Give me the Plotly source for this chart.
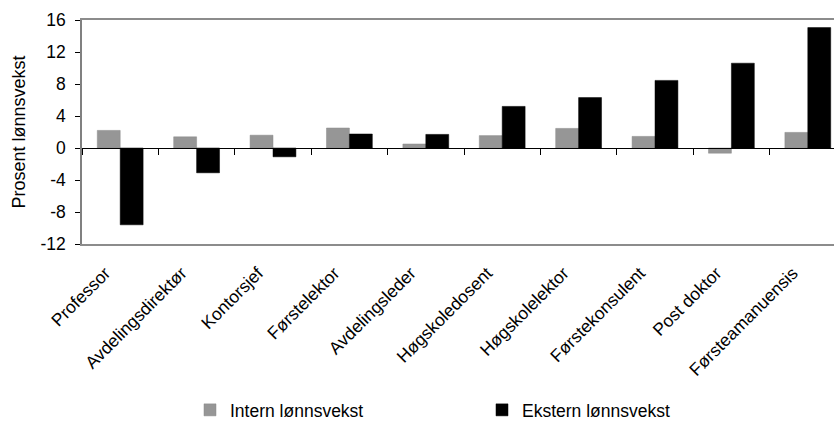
import plotly.graph_objects as go

# Stillingskategorier og lønnsvekst (prosent)
categories = ["Professor", "Avdelingsdirektør", "Kontorsjef", "Førstelektor",
              "Avdelingsleder", "Høgskoledosent", "Høgskolelektor",
              "Førstekonsulent", "Post doktor", "Førsteamanuensis"]
intern = [2.2, 1.4, 1.6, 2.5, 0.5, 1.55, 2.45, 1.45, -0.65, 1.95]
ekstern = [-9.6, -3.1, -1.1, 1.75, 1.7, 5.2, 6.3, 8.45, 10.6, 15.05]
y_ticks = [-12, -8, -4, 0, 4, 8, 12, 16]
y_ticktext = [str(v) for v in y_ticks]

font = "Liberation Sans, Arial, sans-serif"
fs = 17.5

fig = go.Figure()
fig.add_trace(go.Bar(x=categories, y=intern, name="Intern lønnsvekst",
                     marker=dict(color="#969696", line=dict(color="#8a8a8a", width=0.5))))
fig.add_trace(go.Bar(x=categories, y=ekstern, name="Ekstern lønnsvekst",
                     marker=dict(color="#000000", line=dict(color="#000000", width=0.5))))
# invisible trace so the zero-line axis carries the same categories
fig.add_trace(go.Scatter(x=categories, y=[None] * len(categories), xaxis="x2",
                         showlegend=False, hoverinfo="skip"))

ymin, ymax = y_ticks[0], y_ticks[-1]
xrange = [-0.5, len(categories) - 0.5 - 0.157]

fig.update_layout(
    width=834, height=423,
    margin=dict(l=82, r=0, t=20, b=179, autoexpand=False),
    plot_bgcolor="white", paper_bgcolor="white",
    barmode="group", bargap=0.4, bargroupgap=0,
    font=dict(family=font, size=fs, color="black"),
    showlegend=True,
    legend=dict(orientation="h", x=0.1436, xanchor="left", y=-0.741, yanchor="middle",
                entrywidth=247, entrywidthmode="pixels",
                font=dict(size=fs), itemwidth=30, tracegroupgap=0),
    xaxis=dict(type="category", range=xrange, showline=True, linecolor="#8c8c8c",
               linewidth=2, mirror=True, ticks="", tickangle=-45,
               ticklabelshift=-15, ticklabelstandoff=10, automargin=False,
               tickfont=dict(size=fs), showgrid=False),
    xaxis2=dict(type="category", overlaying="x", matches="x", anchor="free",
                position=(0 - ymin) / (ymax - ymin), showline=True, linecolor="black",
                linewidth=1, ticks="outside", tickson="boundaries", ticklen=6,
                tickcolor="black", showticklabels=False, showgrid=False, side="bottom"),
    yaxis=dict(range=[ymin, ymax], tickvals=y_ticks, ticktext=y_ticktext,
               showgrid=False, zeroline=False, automargin=False,
               showline=True, linecolor="#808080", linewidth=1.5, ticks="outside",
               ticklen=5, tickcolor="black", tickfont=dict(size=fs),
               ticklabelstandoff=6,
               title=dict(text="Prosent lønnsvekst", font=dict(size=18), standoff=10)),
)

fig.write_html("out.html")
